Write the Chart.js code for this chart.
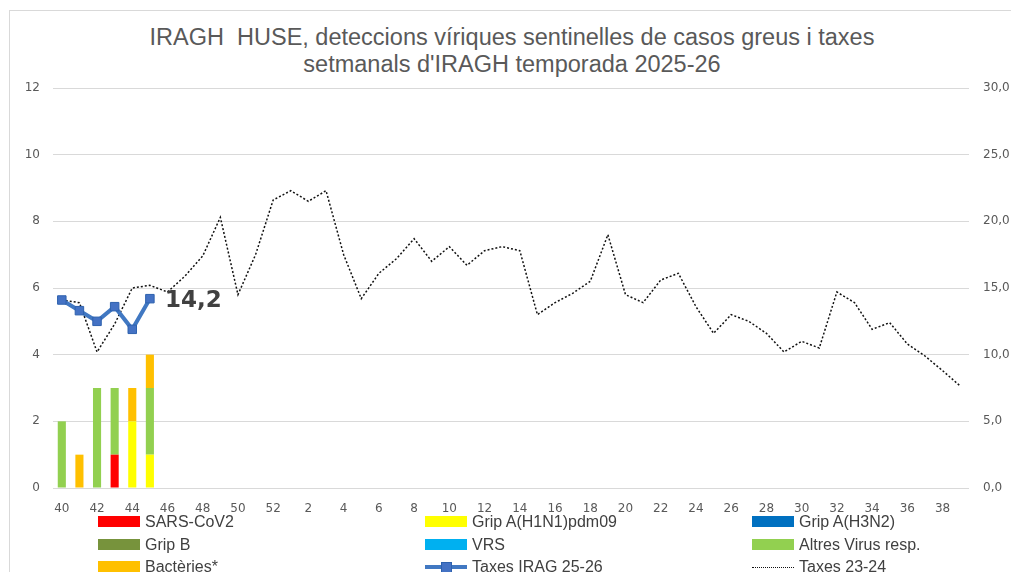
<!DOCTYPE html>
<html>
<head>
<meta charset="utf-8">
<script src="https://cdn.jsdelivr.net/npm/chart.js@4"></script>
<style>
  body { margin: 0; background: #fff; }
  #wrap { position: relative; width: 1011px; height: 572px; overflow: hidden; }
  #frame { position: absolute; left: 9px; top: 10px; width: 1100px; height: 700px;
           border-left: 1px solid #d9d9d9; border-top: 1px solid #d9d9d9; }
  #title { position: absolute; left: 0; width: 1024px; top: 24px; text-align: center;
           font-family: "Liberation Sans", Arial, sans-serif; font-size: 23.5px; line-height: 27px; color: #595959; }
  canvas { position: absolute; left: 0; top: 0; }
  .leg { position: absolute; font-family: "Liberation Sans", Arial, sans-serif; font-size: 16px; color: #404040;
         height: 20px; line-height: 20px; white-space: nowrap; }
  .leg .sw { position: absolute; left: 0; top: 4px; width: 42px; height: 11px; }
  .leg .tx { position: absolute; left: 47px; top: 0; }
</style>
</head>
<body>
<div id="wrap">
  <div id="frame"></div>
  <div id="title">IRAGH&nbsp; HUSE, deteccions víriques sentinelles de casos greus i taxes<br>setmanals d'IRAGH temporada 2025-26</div>
  <canvas id="chart" width="1011" height="572"></canvas>
  <div id="legend"></div>
</div>
<script>
// setmanes epidemiològiques 40..52 i 1..39
var weeks = [40,41,42,43,44,45,46,47,48,49,50,51,52,1,2,3,4,5,6,7,8,9,10,11,12,13,14,15,16,17,18,19,20,21,22,23,24,25,26,27,28,29,30,31,32,33,34,35,36,37,38,39]

// deteccions (nombre de casos) per setmana
var sarsCov2  = [0,0,0,1,0,0]
var gripH1N1  = [0,0,0,0,2,1]
var gripH3N2  = [0,0,0,0,0,0]
var gripB     = [0,0,0,0,0,0]
var vrs       = [0,0,0,0,0,0]
var altresVir = [2,0,3,2,0,2]
var bacteries = [0,1,0,0,1,1]

// taxes setmanals
var taxes2526 = [14.1,13.3,12.5,13.6,11.9,14.2]
var taxes2324 = [14.1,13.9,10.2,12.3,15.0,15.2,14.7,15.9,17.4,20.3,14.5,17.5,21.6,22.3,21.5,22.3,
                 17.5,14.2,16.1,17.2,18.7,17.0,18.1,16.7,17.8,18.1,17.8,13.0,13.9,14.6,15.5,19.0,
                 14.5,13.9,15.6,16.1,13.6,11.6,13.0,12.5,11.6,10.2,11.0,10.5,14.7,13.9,11.9,12.4,
                 10.8,9.9,8.8,7.65]

var tickFont = { family: "DejaVu Sans", size: 12 }
var gray = "#595959"

function barSet(label, data, color) {
  return { type: "bar", label: label, data: data, backgroundColor: color, yAxisID: "y",
           stack: "det", order: 1, barPercentage: 0.46, categoryPercentage: 1 }
}

var datasets = [
  { type: "line", label: "Taxes IRAG 25-26", data: taxes2526, yAxisID: "y1", order: 0,
    borderColor: "#4178C2", borderWidth: 4, pointStyle: "rect", pointRadius: 6,
    pointBackgroundColor: "#4472C4", pointBorderColor: "#2E62AE", pointBorderWidth: 1, tension: 0 },
  { type: "line", label: "Taxes 23-24", data: taxes2324, yAxisID: "y1", order: 0,
    borderColor: "#111", borderWidth: 1.5, borderDash: [2, 2], pointRadius: 0, tension: 0 },
  barSet("SARS-CoV2", sarsCov2, "#FF0000"),
  barSet("Grip A(H1N1)pdm09", gripH1N1, "#FFFF00"),
  barSet("Grip A(H3N2)", gripH3N2, "#0070C0"),
  barSet("Grip B", gripB, "#77933C"),
  barSet("VRS", vrs, "#00B0F0"),
  barSet("Altres Virus resp.", altresVir, "#92D050"),
  barSet("Bactèries*", bacteries, "#FFC000")
]

// etiqueta del darrer valor de la taxa 25-26
var lastLabel = {
  id: "lastLabel",
  afterDatasetsDraw: function(chart) {
    var meta = chart.getDatasetMeta(0)
    var pt = meta.data[meta.data.length - 1]
    var ctx = chart.ctx
    ctx.save()
    ctx.font = "bold 23px 'DejaVu Sans'"
    ctx.fillStyle = "#404040"
    ctx.textBaseline = "middle"
    ctx.fillText(taxes2526[taxes2526.length - 1].toFixed(1).replace(".", ","), pt.x + 15, pt.y + 2)
    ctx.restore()
  }
}

var chart = new Chart("chart", {
  data: { labels: weeks, datasets: datasets },
  options: {
    responsive: false,
    animation: false,
    layout: { padding: { top: 88, bottom: 56, left: 0, right: 0 } },
    plugins: { legend: { display: false }, title: { display: false }, tooltip: { enabled: false } },
    scales: {
      x: {
        offset: true,
        grid: { display: false },
        border: { display: false },
        ticks: { autoSkip: false, maxRotation: 0, color: gray, font: tickFont, padding: 6,
                 callback: function(v, i) { return i % 2 == 0 ? weeks[i] : "" } },
        afterFit: function(s) { s.height = 28 }
      },
      y: {
        position: "left", min: 0, max: 12,
        ticks: { stepSize: 2, color: gray, font: tickFont, padding: 13 },
        grid: { color: "#d9d9d9", drawTicks: false },
        border: { display: false },
        afterFit: function(s) { s.width = 53 }
      },
      y1: {
        position: "right", min: 0, max: 30,
        ticks: { stepSize: 5, color: gray, font: tickFont, padding: 14,
                 callback: function(v) { return v.toFixed(1).replace(".", ",") } },
        grid: { display: false, drawTicks: false },
        border: { display: false },
        afterFit: function(s) { s.width = 42 }
      }
    }
  },
  plugins: [lastLabel]
})

// llegenda en tres columnes
var legendOrder = ["SARS-CoV2", "Grip A(H1N1)pdm09", "Grip A(H3N2)", "Grip B", "VRS",
                   "Altres Virus resp.", "Bactèries*", "Taxes IRAG 25-26", "Taxes 23-24"]
var colX = [98, 425, 752]
var rowY = [512, 535, 557]
var legend = document.getElementById("legend")
legendOrder.forEach(function(name, i) {
  var ds = datasets.find(function(d) { return d.label == name })
  var item = document.createElement("div")
  item.className = "leg"
  item.style.left = colX[i % 3] + "px"
  item.style.top = rowY[Math.floor(i / 3)] + "px"
  var sw
  if (ds.type == "bar") {
    sw = '<div class="sw" style="background:' + ds.backgroundColor + '"></div>'
  } else if (ds.borderDash) {
    sw = '<div class="sw" style="height:0;top:10px;border-top:1.5px dotted #111"></div>'
  } else {
    sw = '<div class="sw" style="height:4px;top:8px;background:' + ds.borderColor + '"></div>' +
         '<div style="position:absolute;left:16px;top:5px;width:9px;height:9px;background:#4472C4;border:1px solid #2E62AE"></div>'
  }
  item.innerHTML = sw + '<span class="tx">' + name + '</span>'
  legend.appendChild(item)
})
</script>
</body>
</html>
